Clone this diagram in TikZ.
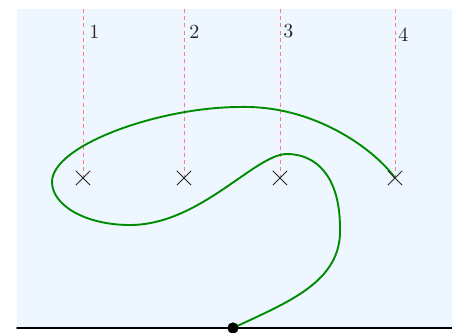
\documentclass[tikz,border=0pt]{standalone}
\usetikzlibrary{shapes.misc}
\definecolor{bgblue}{RGB}{238,247,255}
\definecolor{curvegreen}{RGB}{0,140,0}
\definecolor{guidered}{RGB}{255,125,125}
\begin{document}
\begin{tikzpicture}[x=0.5pt,y=-0.5pt,line join=round,line cap=round,
	crossmk/.style={cross out,draw=black!85,line width=0.5pt,minimum size=6.5pt,inner sep=0pt},
	guide/.style={guidered,line width=0.45pt,dash pattern=on 2pt off 1.6pt,line cap=butt},
	lbl/.style={anchor=west,inner sep=0pt,text=black!85}]
	\useasboundingbox (0,0) rectangle (452,333);
	\fill[bgblue] (17,9) rectangle (452,328);
	% guides and crosses
	\foreach \i/\x in {1/83,2/184,3/280,4/395}{
		\coordinate (t\i) at (\x,9);
		\coordinate (c\i) at (\x,178);
		\draw[guide] (t\i) -- (c\i);
	}
	\node[lbl] (n1) at (89,31.5) {1};
	\node[lbl] (n2) at (189,31.5) {2};
	\node[lbl] (n3) at (283,31.5) {3};
	\node[lbl] (n4) at (398,35) {4};
	% ground and start point
	\coordinate (g0) at (17,328);
	\coordinate (g1) at (452,328);
	\node[circle,fill=black,inner sep=0pt,minimum size=5.5pt] (o) at (233,328) {};
	\draw[curvegreen,line width=0.95pt] (o.center)
		.. controls (288,302) and (342,282) .. (340,228)
		.. controls (340,175) and (315,154) .. (287,154)
		.. controls (255,154) and (200,225) .. (130,225)
		.. controls (85,225) and (52,205) .. (52,182)
		.. controls (52,145) and (160,107) .. (240,107)
		.. controls (315,105) and (375,150) .. (c4);
	\foreach \i in {1,...,4}
		\node[crossmk] (p\i) at (c\i) {};
	\draw[line width=0.8pt] (g0) -- (g1);
	\node[circle,fill=black,inner sep=0pt,minimum size=5.5pt] at (o) {};
\end{tikzpicture}
\end{document}
